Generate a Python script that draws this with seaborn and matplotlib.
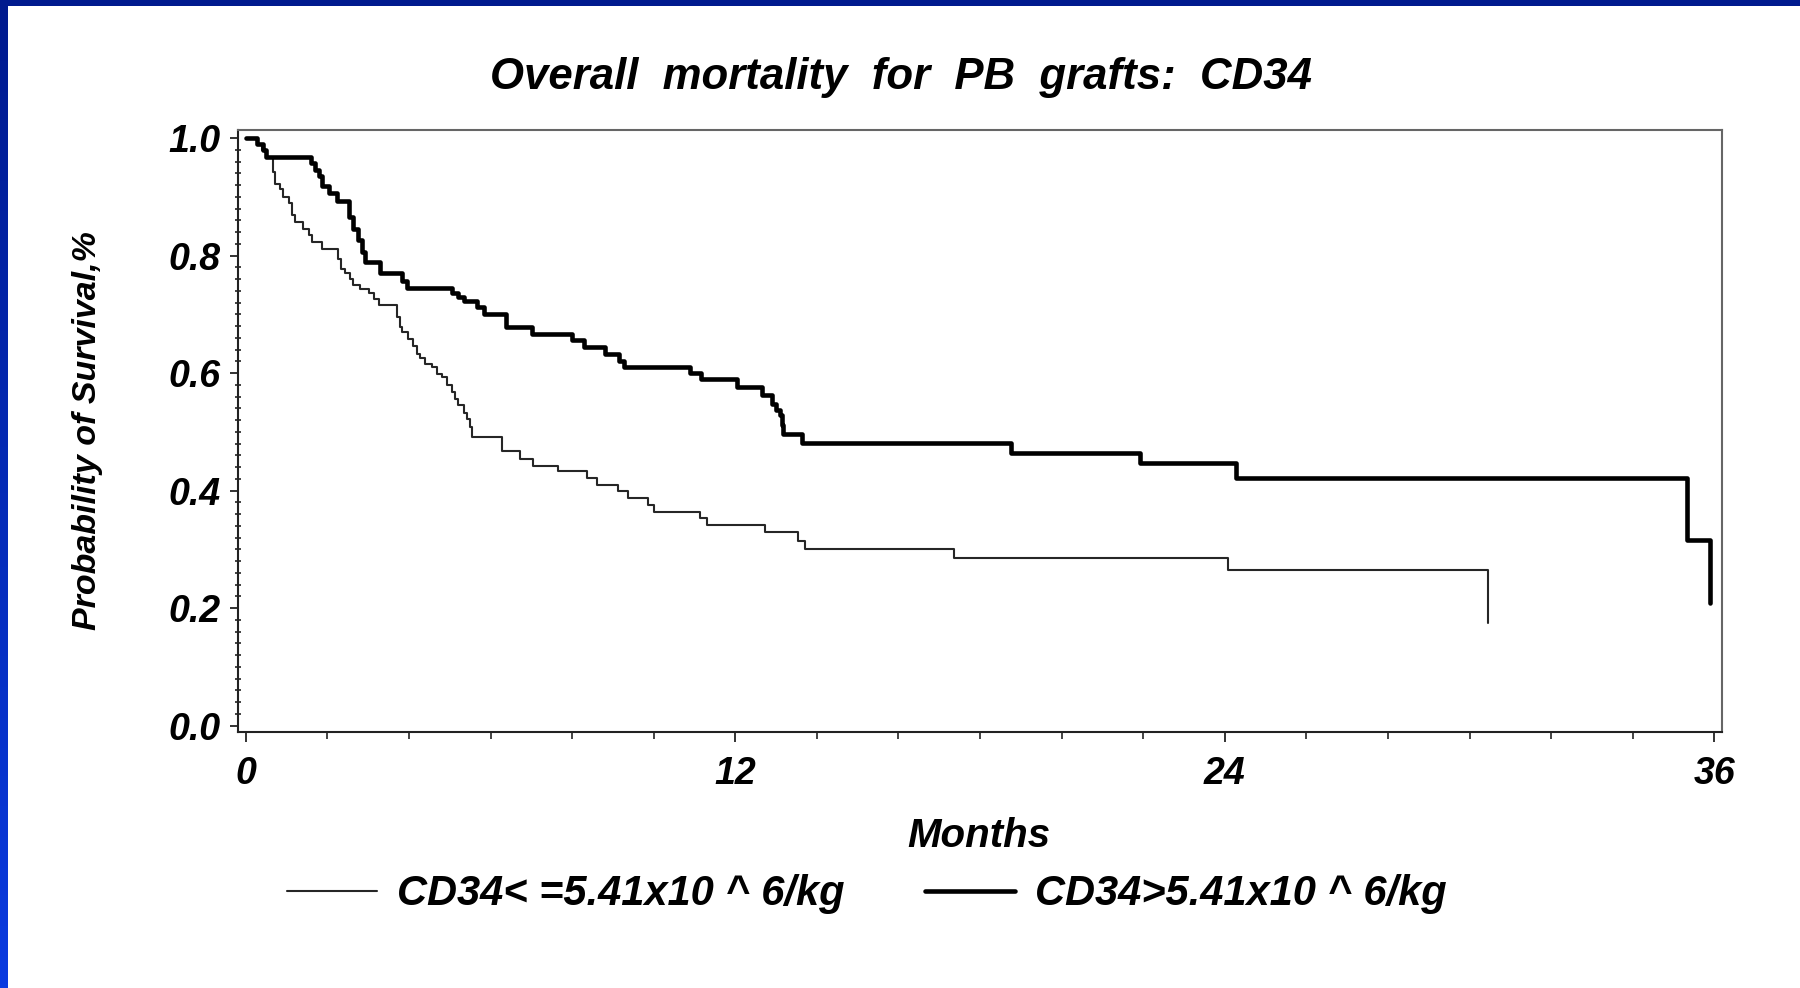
import numpy as np
import matplotlib
matplotlib.use("Agg")
import matplotlib.pyplot as plt
from matplotlib.colors import LinearSegmentedColormap
from matplotlib.lines import Line2D
from matplotlib.ticker import MultipleLocator, FixedLocator
import seaborn as sns

# Kaplan-Meier estimates, months after transplant vs. survival probability
low_months = [0.00, 0.31, 0.39, 0.51, 0.68, 0.72, 0.84, 0.92, 1.05, 1.13, 1.21,
              1.41, 1.54, 1.62, 1.88, 2.25, 2.33, 2.43, 2.55, 2.64, 2.80, 3.02,
              3.15, 3.26, 3.70, 3.78, 3.82, 3.98, 4.11, 4.19, 4.27, 4.40, 4.56,
              4.68, 4.80, 4.93, 5.05, 5.13, 5.21, 5.34, 5.42, 5.50, 5.54, 6.28,
              6.72, 7.05, 7.66, 8.36, 8.60, 9.13, 9.38, 9.87, 10.01, 11.14,
              11.30, 12.72, 13.54, 13.72, 17.37, 24.08, 30.45]
low_surv = [1.000, 0.989, 0.980, 0.966, 0.943, 0.922, 0.913, 0.900, 0.889, 0.869,
            0.858, 0.846, 0.835, 0.824, 0.812, 0.795, 0.778, 0.770, 0.761, 0.750,
            0.744, 0.737, 0.727, 0.716, 0.696, 0.679, 0.670, 0.659, 0.647, 0.633,
            0.625, 0.616, 0.610, 0.599, 0.593, 0.579, 0.568, 0.556, 0.545, 0.533,
            0.522, 0.508, 0.491, 0.468, 0.454, 0.442, 0.434, 0.421, 0.410, 0.400,
            0.387, 0.376, 0.364, 0.354, 0.342, 0.329, 0.315, 0.300, 0.286, 0.265,
            0.175]

high_months = [0.00, 0.27, 0.43, 0.50, 1.60, 1.70, 1.80, 1.88, 2.05, 2.23, 2.52,
               2.64, 2.76, 2.84, 2.93, 3.28, 3.82, 3.96, 5.05, 5.20, 5.35, 5.66,
               5.83, 6.38, 7.01, 7.99, 8.28, 8.81, 9.15, 9.26, 10.90, 11.15,
               12.04, 12.65, 12.89, 13.00, 13.10, 13.14, 13.18, 13.63, 18.77,
               21.93, 24.27, 35.33, 35.90]
high_surv = [1.000, 0.991, 0.980, 0.968, 0.957, 0.946, 0.935, 0.918, 0.907, 0.893,
             0.866, 0.846, 0.826, 0.807, 0.789, 0.770, 0.757, 0.745, 0.736, 0.730,
             0.723, 0.712, 0.701, 0.679, 0.667, 0.656, 0.644, 0.633, 0.621, 0.610,
             0.600, 0.590, 0.576, 0.562, 0.548, 0.538, 0.528, 0.511, 0.497, 0.481,
             0.464, 0.447, 0.422, 0.316, 0.209]

x_ticks = [0, 12, 24, 36]
y_ticks = [0.0, 0.2, 0.4, 0.6, 0.8, 1.0]
y_tick_labels = ["0.0", "0.2", "0.4", "0.6", "0.8", "1.0"]
group_labels = ["CD34< =5.41x10 ^ 6/kg", "CD34>5.41x10 ^ 6/kg"]
title_text = "Overall  mortality  for  PB  grafts:  CD34"
x_label = "Months"
y_label = "Probability of Survival,%"

sns.set_theme(style="white")
plt.rcParams["font.family"] = ["Liberation Sans", "DejaVu Sans"]
plt.rcParams["font.weight"] = "bold"
plt.rcParams["font.style"] = "italic"
plt.rcParams["text.color"] = "black"
plt.rcParams["axes.labelcolor"] = "black"
plt.rcParams["xtick.color"] = "black"
plt.rcParams["ytick.color"] = "black"

fig = plt.figure(figsize=(18, 9.88), dpi=100)
fig.patch.set_facecolor("white")

# slide frame: navy band on top, blue gradient strip on the left
navy = "#001a8e"
left_cmap = LinearSegmentedColormap.from_list("slide", [navy, "#0a3be0"])
strip = fig.add_axes([0, 0, 8 / 1800, 1])
strip.imshow(np.linspace(0, 1, 256).reshape(-1, 1), cmap=left_cmap,
             aspect="auto", extent=[0, 1, 0, 1])
strip.set_axis_off()
band = fig.add_axes([0, 1 - 6 / 988, 1, 6 / 988])
band.set_facecolor(navy)
band.set_xticks([])
band.set_yticks([])
for s in band.spines.values():
    s.set_visible(False)

ax = fig.add_axes([0.1320, 0.2591, 0.8247, 0.6093])
ax.set_facecolor("white")

thin_color = "#262626"
thick_color = "#000000"
thin_lw = 1.5
thick_lw = 3.3

sns.lineplot(x=low_months, y=low_surv, ax=ax, color=thin_color, linewidth=thin_lw,
             drawstyle="steps-post", estimator=None, sort=False)
sns.lineplot(x=high_months, y=high_surv, ax=ax, color=thick_color, linewidth=thick_lw,
             drawstyle="steps-post", estimator=None, sort=False)

ax.set_xlim(-0.2, 36.19)
ax.set_ylim(-0.011, 1.014)

ax.xaxis.set_major_locator(FixedLocator(x_ticks))
ax.xaxis.set_minor_locator(MultipleLocator(2))
ax.set_xticklabels([str(t) for t in x_ticks])
ax.yaxis.set_major_locator(FixedLocator(y_ticks))
ax.yaxis.set_minor_locator(MultipleLocator(0.02))
ax.set_yticklabels(y_tick_labels)

ax.tick_params(axis="x", which="major", direction="out", length=7.5, width=1.2,
               color="#111111", labelsize=27, pad=10, bottom=True)
ax.tick_params(axis="x", which="minor", direction="out", length=5, width=1.1,
               color="#111111", bottom=True)
ax.tick_params(axis="y", which="major", direction="out", length=6, width=1.2,
               color="#111111", labelsize=27, pad=6, left=True)
ax.tick_params(axis="y", which="minor", direction="inout", length=5, width=1.1,
               color="#111111", left=True)

for side in ["left", "bottom"]:
    ax.spines[side].set_color("#222222")
    ax.spines[side].set_linewidth(1.5)
for side in ["top", "right"]:
    ax.spines[side].set_color("#666666")
    ax.spines[side].set_linewidth(1.5)

ax.set_xlabel(x_label, fontsize=29, fontweight="bold", fontstyle="italic")
ax.xaxis.set_label_coords(0.4995, -0.172)
ax.xaxis.label.set_va("center")
ax.set_ylabel(y_label, fontsize=24.5, fontweight="bold", fontstyle="italic")
ax.yaxis.set_label_coords(-0.1008, 0.5)
ax.yaxis.label.set_va("center")

fig.text(0.5006, 1 - 77 / 988, title_text, ha="center", va="center",
         fontsize=31.5, fontweight="bold", fontstyle="italic")

handles = [Line2D([], [], color=thin_color, linewidth=thin_lw),
           Line2D([], [], color=thick_color, linewidth=thick_lw)]
fig.legend(handles, group_labels, loc="center", bbox_to_anchor=(0.4816, 0.095),
           ncol=2, frameon=False, fontsize=30, handlelength=2.15,
           handletextpad=0.48, columnspacing=1.95)

fig.savefig("out.png", dpi=100, facecolor="white")
